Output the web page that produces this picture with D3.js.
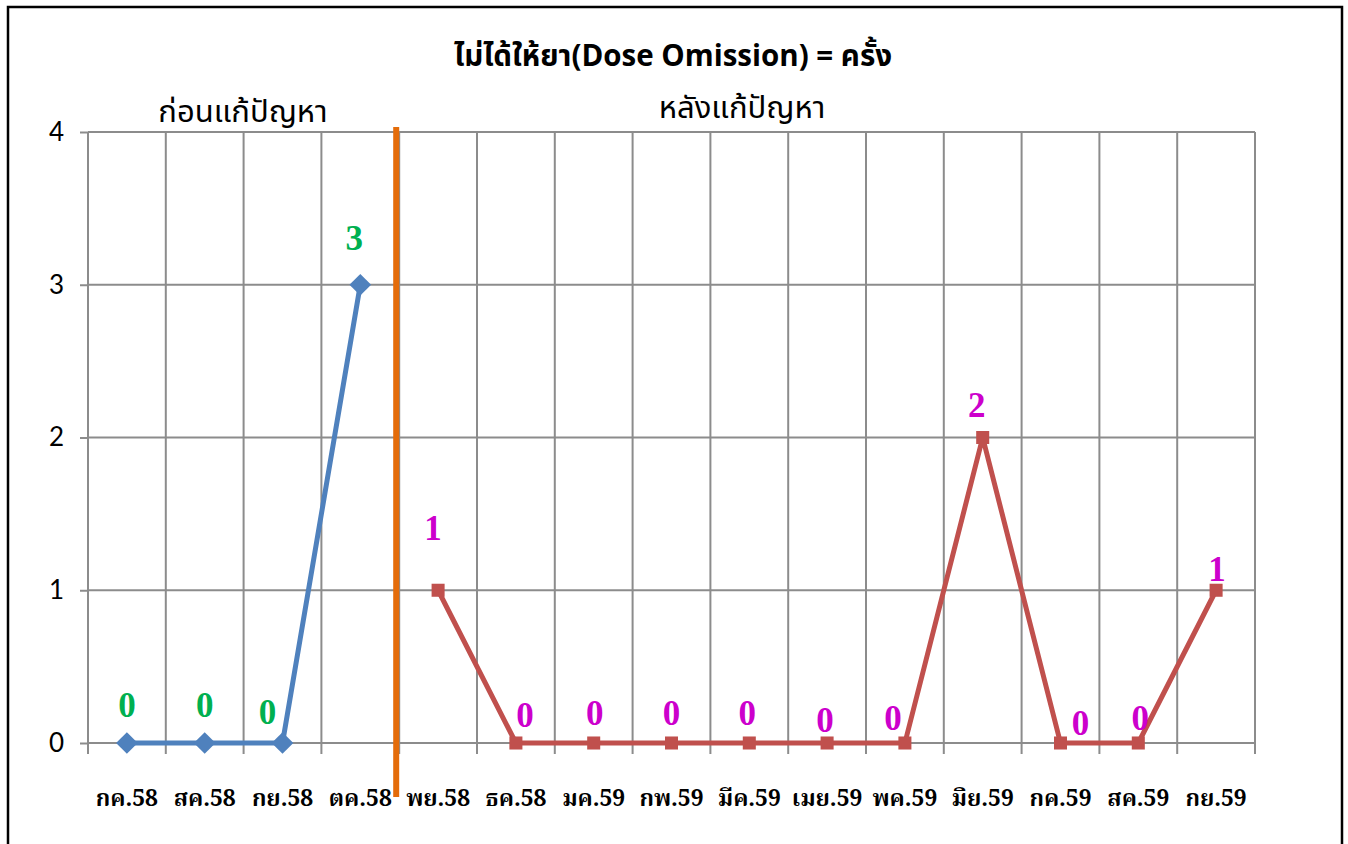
<!DOCTYPE html>
<html>
<head>
<meta charset="utf-8">
<script src="https://cdn.jsdelivr.net/npm/d3@7"></script>
<style>
  html, body { margin: 0; padding: 0; background: #fff; }
  svg { display: block; }
</style>
</head>
<body>
<svg id="chart" width="1348" height="844"></svg>
<script>
// Monthly counts of dose omissions, before and after the fix
const months = ["กค.58", "สค.58", "กย.58", "ตค.58", "พย.58", "ธค.58", "มค.59", "กพ.59",
                "มีค.59", "เมย.59", "พค.59", "มิย.59", "กค.59", "สค.59", "กย.59"];
const beforeMonths = ["กค.58", "สค.58", "กย.58", "ตค.58"];
const beforeValues = [0, 0, 0, 3];
const afterMonths = ["พย.58", "ธค.58", "มค.59", "กพ.59", "มีค.59", "เมย.59", "พค.59",
                     "มิย.59", "กค.59", "สค.59", "กย.59"];
const afterValues = [1, 0, 0, 0, 0, 0, 0, 2, 0, 0, 1];
const yTicks = [0, 1, 2, 3, 4];

const titleText = "ไม่ได้ให้ยา(Dose Omission) = ครั้ง";
const beforeText = "ก่อนแก้ปัญหา";
const afterText = "หลังแก้ปัญหา";

// Small hand nudges for value labels [dx, dy] in pixels
const beforeLabelNudge = [[0, -38], [0, -38], [-15, -31], [-6, -47]];
const afterLabelNudge = [[-5, -63], [9, -28], [1, -30], [0, -30], [-2, -30], [-2, -23], [-12, -25],
                         [-6, -33], [20, -20], [2, -25], [1, -22]];

const svg = d3.select("#chart");
const plot = { left: 88, right: 1255, top: 132, bottom: 743 };

const x = d3.scaleBand().domain(months).range([plot.left, plot.right]).padding(0);
const cx = m => x(m) + x.bandwidth() / 2;
const y = d3.scaleLinear().domain([0, 4]).range([plot.bottom, plot.top]);

const thaiSans = "'Noto Sans Thai', 'Noto Sans Thai UI', 'Tahoma', 'DejaVu Sans', sans-serif";
const thaiSerif = "'Noto Serif Thai', 'Liberation Serif', 'Times New Roman', serif";
const gridColor = "#8c8c8c";

// Outer frame
svg.append("rect")
  .attr("x", 8).attr("y", 7).attr("width", 1334).attr("height", 860)
  .attr("fill", "none").attr("stroke", "#000").attr("stroke-width", 2.5);

// Horizontal grid lines with tick stubs on the left
const yAxis = d3.axisLeft(y).tickValues(yTicks).tickSize(8).tickFormat(d3.format("d"));
svg.append("g")
  .attr("transform", `translate(${plot.left},0)`)
  .call(yAxis)
  .call(g => g.select(".domain").remove())
  .call(g => g.selectAll(".tick line").attr("stroke", gridColor).attr("stroke-width", 2))
  .call(g => g.selectAll(".tick text")
    .attr("x", -24)
    .attr("font-family", "Lato, 'Open Sans', sans-serif")
    .attr("font-size", 26).attr("fill", "#000"));

svg.append("g").selectAll("line")
  .data(yTicks).join("line")
  .attr("x1", plot.left).attr("x2", plot.right)
  .attr("y1", d => y(d)).attr("y2", d => y(d))
  .attr("stroke", gridColor).attr("stroke-width", 2);

// Vertical grid lines on category boundaries, extending below as ticks
const edges = months.map(m => x(m)).concat([plot.right]);
svg.append("g").selectAll("line")
  .data(edges).join("line")
  .attr("x1", d => d).attr("x2", d => d)
  .attr("y1", plot.top).attr("y2", plot.bottom + 11)
  .attr("stroke", gridColor).attr("stroke-width", 2);

// Category labels
svg.append("g").selectAll("text")
  .data(months).join("text")
  .attr("x", d => cx(d)).attr("y", 806)
  .attr("text-anchor", "middle")
  .attr("font-family", thaiSerif)
  .attr("font-weight", "bold")
  .attr("font-size", 23)
  .attr("fill", "#000")
  .text(d => d);

// Divider between the two periods
const divX = x(afterMonths[0]) - 3;
svg.append("line")
  .attr("x1", divX).attr("x2", divX)
  .attr("y1", 127).attr("y2", 797)
  .attr("stroke", "#E46C0A").attr("stroke-width", 6);

// Title and period captions
svg.append("text")
  .attr("x", 673).attr("y", 66)
  .attr("text-anchor", "middle")
  .attr("font-family", thaiSans)
  .attr("font-weight", "bold")
  .attr("font-size", 29.5)
  .attr("fill", "#000")
  .text(titleText);

svg.append("text")
  .attr("x", 243).attr("y", 122)
  .attr("text-anchor", "middle")
  .attr("font-family", thaiSans)
  .attr("font-size", 31)
  .attr("fill", "#000")
  .text(beforeText);

svg.append("text")
  .attr("x", 742).attr("y", 118)
  .attr("text-anchor", "middle")
  .attr("font-family", thaiSans)
  .attr("font-size", 31)
  .attr("fill", "#000")
  .text(afterText);

// Series drawing helper
function drawSeries(cats, vals, color, symbolType, symbolSize, labelColor, nudges) {
  const pts = cats.map((c, i) => ({ c, v: vals[i], n: nudges[i] }));
  const line = d3.line().x(d => cx(d.c)).y(d => y(d.v));
  const g = svg.append("g");
  g.append("path")
    .datum(pts)
    .attr("d", line)
    .attr("fill", "none")
    .attr("stroke", color)
    .attr("stroke-width", 5)
    .attr("stroke-linejoin", "round");
  g.selectAll("path.marker")
    .data(pts).join("path")
    .attr("class", "marker")
    .attr("transform", d => `translate(${cx(d.c)},${y(d.v)})`)
    .attr("d", d3.symbol().type(symbolType).size(symbolSize))
    .attr("fill", color);
  g.selectAll("text")
    .data(pts).join("text")
    .attr("x", d => cx(d.c) + d.n[0])
    .attr("y", d => y(d.v) + d.n[1])
    .attr("dy", "0.35em")
    .attr("text-anchor", "middle")
    .attr("font-family", "'Liberation Serif', 'Times New Roman', serif")
    .attr("font-weight", "bold")
    .attr("font-size", 35)
    .attr("fill", labelColor)
    .text(d => d.v);
}

drawSeries(beforeMonths, beforeValues, "#4F81BD", d3.symbolDiamond2, 300, "#00B050", beforeLabelNudge);
drawSeries(afterMonths, afterValues, "#C0504D", d3.symbolSquare, 170, "#CC00CC", afterLabelNudge);
</script>
</body>
</html>
